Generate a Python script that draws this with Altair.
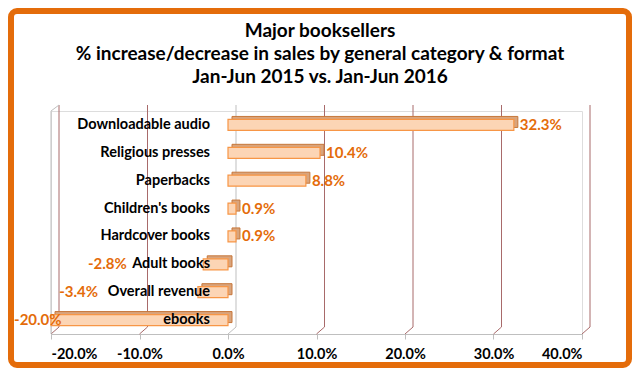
import altair as alt
import pandas as pd

categories = ["Downloadable audio", "Religious presses", "Paperbacks", "Children's books",
              "Hardcover books", "Adult books", "Overall revenue", "ebooks"]
changes = [0.323, 0.104, 0.088, 0.009, 0.009, -0.028, -0.034, -0.200]
ticks = [-0.2, -0.1, 0.0, 0.1, 0.2, 0.3, 0.4]
title_lines = ["Major booksellers",
               "% increase/decrease in sales by general category & format",
               "Jan-Jun 2015 vs. Jan-Jun 2016"]

df = pd.DataFrame({"category": categories, "change": changes})
grid_df = pd.DataFrame({"t": ticks})
title_df = pd.DataFrame({"title": ["\n".join(title_lines)]})

W, H = 531, 223
FONT = "Lato"
ORANGE = "#E46C0A"
PCT = "replace(format(datum.change, '.1%'), '\u2212', '-')"

xs = alt.Scale(domain=[-0.2, 0.4], nice=False, zero=False)
x_axis = alt.Axis(values=ticks, format=".1%", grid=False, title=None,
                  labelExpr="replace(datum.label, '\u2212', '-')",
                  domainColor="#BFBFBF", tickColor="#BFBFBF", tickSize=5,
                  labelFont=FONT, labelFontWeight="bold", labelFontSize=14.5,
                  labelColor="black", labelPadding=8)


def X(field):
    return alt.X(field, scale=xs, axis=x_axis, title=None)


y_enc = alt.Y("category:N", sort=categories,
              scale=alt.Scale(domain=categories, paddingInner=0, paddingOuter=0),
              axis=None)

grid_color = alt.condition("datum.t == 0", alt.value("#BFBFBF"), alt.value("#A86A6A"))

# back-wall gridlines (offset for a 3-D look)
grid = alt.Chart(grid_df).mark_rule(strokeWidth=1, xOffset=8).encode(
    x=X("t:Q"), y=alt.value(-6), y2=alt.value(H - 7), color=grid_color,
)
floor = alt.Chart(grid_df).mark_rule(strokeWidth=1, xOffset=8, x2Offset=0).encode(
    x=X("t:Q"), x2="t:Q", y=alt.value(H - 7), y2=alt.value(H), color=grid_color,
)
left_wall = alt.Chart(pd.DataFrame({"t": [ticks[0]]})).mark_rule(color="#BFBFBF").encode(
    x=X("t:Q"), y=alt.value(0), y2=alt.value(H),
)
left_top = alt.Chart(pd.DataFrame({"t": [ticks[0]]})).mark_rule(color="#BFBFBF", x2Offset=8).encode(
    x=X("t:Q"), x2="t:Q", y=alt.value(0), y2=alt.value(-6),
)

# bar depth (side/top faces) and front face
bars_back = alt.Chart(df).mark_bar(
    size=11, color="#D9A47C", stroke="#C7773A", strokeWidth=1,
    xOffset=4, x2Offset=4, yOffset=-3, y2Offset=-3,
).encode(x=X("change:Q"), x2=alt.datum(0), y=y_enc)

bars = alt.Chart(df).mark_bar(size=11, color="#FCD5B5", stroke="#F79646", strokeWidth=1.2).encode(
    x=X("change:Q"), x2=alt.datum(0), y=y_enc,
)

cat_labels = alt.Chart(df).transform_calculate(zero="0").mark_text(
    align="right", baseline="middle", dx=-18, font=FONT, fontWeight="bold",
    fontSize=14.5, color="black",
).encode(x=X("zero:Q"), y=y_enc, text="category:N")

pos_labels = alt.Chart(df).transform_filter("datum.change >= 0").transform_calculate(
    lab=PCT
).mark_text(
    align="left", baseline="middle", dx=6, font=FONT, fontWeight="bold",
    fontSize=15, color=ORANGE,
).encode(x=X("change:Q"), y=y_enc, text="lab:N")

neg_labels = alt.Chart(df).transform_filter("datum.change < 0").transform_calculate(
    lpos="min(datum.change + 0.012, -(22 + length(datum.category) * 7.2) / 885)",
    lab=PCT,
).mark_text(
    align="right", baseline="middle", font=FONT, fontWeight="bold",
    fontSize=15, color=ORANGE,
).encode(x=X("lpos:Q"), y=y_enc, text="lab:N")

title = alt.Chart(title_df).mark_text(
    align="center", baseline="top", lineBreak="\n", lineHeight=23,
    font=FONT, fontSize=19, fontWeight="bold", color="black",
).encode(x=alt.value(269), y=alt.value(-89), text="title:N")

frame = alt.Chart(pd.DataFrame({"a": [0]})).mark_rect(
    fill="transparent", stroke=ORANGE, strokeWidth=6, cornerRadius=6,
).encode(x=alt.value(-40), x2=alt.value(578), y=alt.value(-100), y2=alt.value(254))

chart = alt.layer(
    grid, floor, left_wall, left_top, bars_back, bars, cat_labels, pos_labels, neg_labels,
    title, frame
).properties(
    width=W, height=H,
    padding={"left": 43, "right": 50, "top": 103, "bottom": 34},
    autosize=alt.AutoSizeParams(type="none"),
).configure_view(stroke=None).configure(background="white")

chart.save("out.html", embed_options={"renderer": "svg", "actions": False})
